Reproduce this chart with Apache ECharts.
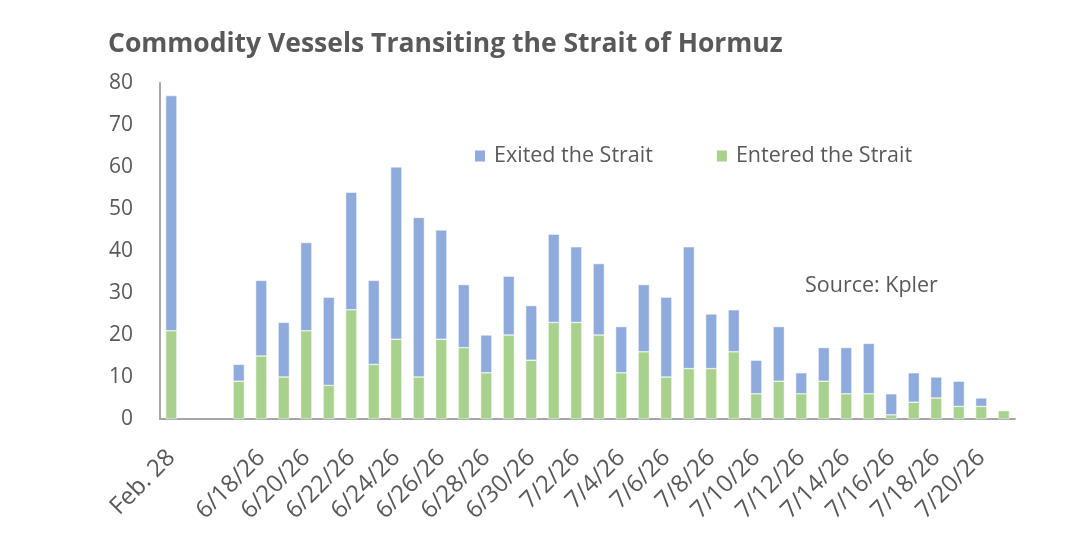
<!DOCTYPE html>
<html>
<head>
<meta charset="utf-8" />
<title>Commodity Vessels Transiting the Strait of Hormuz</title>
<style>html,body{margin:0;padding:0;background:#fff}#chart{width:1086px;height:536px}</style>
<script src="https://cdn.jsdelivr.net/npm/echarts@6/dist/echarts.min.js"></script>
</head>
<body>
<div id="chart"></div>
<script>
  // categories: Feb. 28, two empty gap slots, then 6/17/26 .. 7/21/26
  const categories = ["Feb. 28", "", "",
    "6/17/26", "6/18/26", "6/19/26", "6/20/26", "6/21/26", "6/22/26", "6/23/26", "6/24/26",
    "6/25/26", "6/26/26", "6/27/26", "6/28/26", "6/29/26", "6/30/26",
    "7/1/26", "7/2/26", "7/3/26", "7/4/26", "7/5/26", "7/6/26", "7/7/26", "7/8/26",
    "7/9/26", "7/10/26", "7/11/26", "7/12/26", "7/13/26", "7/14/26", "7/15/26", "7/16/26",
    "7/17/26", "7/18/26", "7/19/26", "7/20/26", "7/21/26"];

  const entered = [21, null, null,
    9, 15, 10, 21, 8, 26, 13, 19, 10, 19, 17, 11, 20, 14,
    23, 23, 20, 11, 16, 10, 12, 12, 16, 6, 9, 6, 9, 6, 6, 1, 4, 5, 3, 3, 2];

  const exited = [56, null, null,
    4, 18, 13, 21, 21, 28, 20, 41, 38, 26, 15, 9, 14, 13,
    21, 18, 17, 11, 16, 19, 29, 13, 10, 8, 13, 5, 8, 11, 12, 5, 7, 5, 6, 2, 0];

  const yTicks = { min: 0, max: 80, interval: 10 };

  const textColor = "#595959";
  const font = "Open Sans";

  const chart = echarts.init(document.getElementById("chart"), null, { renderer: "canvas" });
  chart.setOption({
    animation: false,
    textStyle: { fontFamily: font },
    title: {
      text: "Commodity Vessels Transiting the Strait of Hormuz",
      left: 108, top: 31, padding: 0,
      textStyle: { fontFamily: font, fontWeight: "bold", fontSize: 26.5, color: textColor }
    },
    legend: {
      left: 473, top: 145, padding: 0,
      itemWidth: 12, itemHeight: 13, itemGap: 62,
      icon: "rect",
      textStyle: { fontFamily: font, fontSize: 21.5, color: textColor, padding: [0, 0, 0, 3] },
      data: ["Exited the Strait", "Entered the Strait"]
    },
    graphic: [{
      type: "text", left: 805, top: 275,
      style: { text: "Source: Kpler", fontFamily: font, fontSize: 21.5, fill: textColor }
    }],
    grid: { left: 160, right: 71, top: 83, bottom: 117, containLabel: false },
    xAxis: {
      type: "category",
      data: categories,
      axisLine: { lineStyle: { color: "#A6A6A6", width: 2 } },
      axisTick: { show: false },
      axisLabel: {
        rotate: 45, color: textColor, fontSize: 24, fontFamily: font, margin: 35,
        interval: (i) => i === 0 || (i >= 4 && i % 2 === 0)
      }
    },
    yAxis: {
      type: "value",
      min: yTicks.min, max: yTicks.max, interval: yTicks.interval,
      splitLine: { show: false },
      axisLine: { show: true, lineStyle: { color: "#A6A6A6", width: 2 } },
      axisTick: { show: false },
      axisLabel: { color: textColor, fontSize: 21, fontFamily: font, margin: 27 }
    },
    series: [
      {
        name: "Entered the Strait", type: "bar", stack: "v", data: entered,
        barCategoryGap: "50%",
        itemStyle: { color: "#A9D18E", borderColor: "#fff", borderWidth: 0.5 }
      },
      {
        name: "Exited the Strait", type: "bar", stack: "v", data: exited,
        barCategoryGap: "50%",
        itemStyle: { color: "#8FAADC", borderColor: "#fff", borderWidth: 0.5 }
      }
    ]
  });
</script>
</body>
</html>
